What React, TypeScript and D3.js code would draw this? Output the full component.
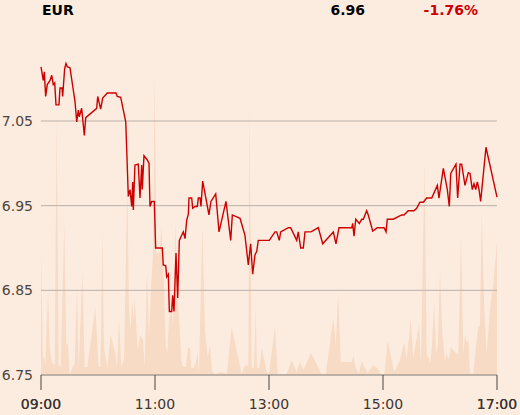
import React from "react";
import * as d3 from "d3";

// minutes after 09:00 and price
const priceMinutes = [0,2.4,3.5,4.9,6.6,9.5,11.3,12.9,14.4,15.8,18.9,20,22.1,22.8,24.9,26.3,27.7,30.5,35.8,37.6,39.3,40.3,42.8,45.6,47.1,58.6,59.7,62.8,64.9,69.8,78.9,80.3,83.9,89.2,91.9,93.7,95.5,96.5,97.2,98.9,102.4,104.2,106,106.6,108.4,111.9,113.7,114.7,116.5,119.3,120.7,127.7,128.7,131.3,132.3,134,135.1,137.6,138.6,140,142.1,143.9,145.6,148.1,149.8,151.6,153.4,155.1,155.8,158.6,159.7,162.1,164.5,165.6,167.4,168.4,170.2,176.8,178.9,183.9,187.4,194.7,199.7,201.4,209.5,214.7,218.2,220.7,222.8,225.3,227.1,228.7,240.3,246.3,248.1,250.8,252.3,260.3,262.8,269.2,270.8,273.4,276.1,277.9,284.2,291.9,296.5,307.7,310.5,313.7,327.1,328.1,329.5,331.3,335.1,337.6,339.3,342.8,344.5,349.2,354,361.1,363.2,364.5,370.8,376.1,379.7,382.1,386.6,392.6,395.5,398.9,402.4,406,411.3,417.2,418.9,423.5,427.7,429.8,431.3,436.8,438.6,441.1,442.8,446.3,449.8,451.6,454,455.8,457.6,459.3,461.1,462.8,468.4,480];
const priceValues = [7.114,7.098,7.108,7.079,7.093,7.098,7.104,7.093,7.095,7.069,7.069,7.089,7.089,7.079,7.112,7.118,7.114,7.113,7.073,7.049,7.063,7.055,7.065,7.033,7.054,7.065,7.079,7.064,7.077,7.083,7.083,7.079,7.078,7.049,6.961,6.969,6.949,6.978,6.945,6.998,6.999,6.959,6.998,6.969,7.009,7.004,7.0,6.949,6.955,6.955,6.9,6.9,6.88,6.879,6.866,6.869,6.825,6.825,6.844,6.825,6.894,6.841,6.909,6.915,6.919,6.911,6.933,6.94,6.959,6.959,6.947,6.949,6.949,6.959,6.959,6.949,6.979,6.939,6.955,6.964,6.919,6.955,6.909,6.939,6.935,6.915,6.88,6.905,6.869,6.892,6.896,6.909,6.909,6.919,6.919,6.909,6.919,6.924,6.924,6.909,6.919,6.9,6.9,6.919,6.919,6.924,6.905,6.919,6.905,6.924,6.924,6.929,6.914,6.934,6.929,6.934,6.934,6.944,6.939,6.92,6.924,6.924,6.919,6.934,6.934,6.937,6.939,6.939,6.944,6.944,6.947,6.954,6.954,6.959,6.959,6.974,6.959,6.994,6.969,6.949,6.988,6.999,6.959,6.999,6.999,6.974,6.989,6.988,6.969,6.976,6.969,6.978,6.969,6.955,7.019,6.96];

// minutes after 09:00 and traded volume
const volumeMinutes = [0,2.1,3.2,4.5,7.4,9.2,11.6,14.4,16.5,18.6,20.7,24.5,26.6,28.4,30.2,35.5,37.9,39.7,43.5,46,48.7,57.2,60.7,62.6,64.5,66.3,69.8,73.4,78.2,80,82.1,84.5,87.4,90.8,92.6,94.4,95.8,97.6,98.6,101,102.1,104.5,107.4,109.2,111.6,113.7,116.1,117.9,119.7,121.4,124.9,126.6,129.5,131.3,132.9,134.7,137.2,138.9,141.4,144.2,146,147.7,149.5,152.3,154.7,156.8,158.2,160.7,163.5,164.9,166.3,169.8,172.6,175.5,177.9,180.3,183.2,190.2,195.5,200.7,211.3,214.7,218.2,219.5,221.8,224.2,226,227.4,229.8,232.3,235.1,237.6,240,246.3,249.2,258.6,263.9,269.2,272.6,276.1,284.2,295.5,299.7,307.7,310.2,312.9,315.5,327.1,328.7,331.3,334.7,337.6,340.3,341.8,343.9,349.8,355.1,357.6,361.4,364.9,371.9,377.9,382.4,384.9,389.2,391.9,397.9,400,403.7,406,407.7,409.5,411.3,414,415.8,417.6,420,422.4,425.3,427.1,428.7,431.6,435.8,439.3,442.1,444.5,446.3,448.1,449.8,451.6,455,457.6,460.3,462.1,463.9,466.6,469.2,472.6,476.1,480];
const volumeValues = [125,18,18,10,85,28,12,10,258,10,8,152,30,32,1,12,88,8,103,8,8,68,8,8,144,27,8,40,22,8,57,8,15,195,67,45,75,55,78,38,25,40,35,8,108,38,92,122,303,122,122,149,88,30,22,55,75,48,152,72,48,15,8,8,27,27,7,7,15,22,3,148,45,18,30,3,1,3,1,48,1,10,9,270,7,7,67,7,7,27,15,3,1,49,1,1,15,3,13,5,22,1,1,57,30,83,13,13,20,7,2,14,8,6,2,10,6,1,1,34,3,15,33,15,56,17,51,12,213,20,18,12,27,72,22,28,104,42,13,23,15,28,23,20,141,20,40,33,35,2,1,28,48,50,164,67,22,67,90,134];

const yTicks = [6.75, 6.85, 6.95, 7.05];
const xTickHours = [9, 11, 13, 15, 17];
const tickerName = "EUR";
const lastPrice = "6.96";
const changePct = "-1.76%";

export default function App() {
  const W = 520, H = 415;
  const left = 41, right = 497, bottom = 375;
  const x = d3.scaleLinear().domain([0, 480]).range([left, right]);
  const y = d3.scaleLinear().domain([6.75, 7.05]).range([bottom, 121]);
  const yv = d3.scaleLinear().domain([0, 315]).range([bottom, 60]);

  const pricePts = priceMinutes.map((m, i) => [m, priceValues[i]] as [number, number]);
  const volPts = volumeMinutes.map((m, i) => [m, volumeValues[i]] as [number, number]);

  const line = d3.line<[number, number]>().x(d => x(d[0])).y(d => y(d[1]));
  const area = d3.area<[number, number]>().x(d => x(d[0])).y0(bottom).y1(d => yv(d[1]));

  const font = "'DejaVu Sans', sans-serif";
  const fmtHour = (h: number) => (h < 10 ? "0" : "") + h + ":00";

  return (
    <svg width={W} height={H} style={{ position: "absolute", left: 0, top: 0, background: "#fcece0" }} fontFamily={font}>
      <rect x={0} y={0} width={W} height={H} fill="#fcece0" />
      <path d={area(volPts) || ""} fill="#f8dbc5" />
      {yTicks.map(t => (
        <g key={t}>
          <line x1={left} x2={right} y1={y(t)} y2={y(t)} stroke="#b8b0aa" strokeWidth={1} />
          <text x={33} y={y(t)} dy="0.35em" textAnchor="end" fontSize={14} fill="#4a4540">{t.toFixed(2)}</text>
        </g>
      ))}
      <line x1={left} x2={right} y1={bottom} y2={bottom} stroke="#9b9590" strokeWidth={1} />
      {xTickHours.map((h, i) => {
        const px = x((h - 9) * 60);
        const end = i === 0 || i === xTickHours.length - 1;
        return (
          <g key={h}>
            <line x1={px} x2={px} y1={bottom} y2={bottom + 15} stroke="#4a4540" strokeWidth={1} />
            <text x={px} y={bottom + 29} dy="0.35em" textAnchor="middle" fontSize={14} fill="#3a3531">{fmtHour(h)}</text>
            {end && <text x={px} y={bottom + 29} dy="0.35em" textAnchor="middle" fontSize={14} fill="#3a3531">{fmtHour(h)}</text>}
          </g>
        );
      })}
      <path d={line(pricePts) || ""} fill="none" stroke="#cc0000" strokeWidth={1.4} strokeLinejoin="miter" />
      <text x={42} y={15} fontSize={14} fontWeight="bold" fill="#000">{tickerName}</text>
      <text x={365} y={15} textAnchor="end" fontSize={14} fontWeight="bold" fill="#000">{lastPrice}</text>
      <text x={478} y={15} textAnchor="end" fontSize={14} fontWeight="bold" fill="#cc0000">{changePct}</text>
    </svg>
  );
}
